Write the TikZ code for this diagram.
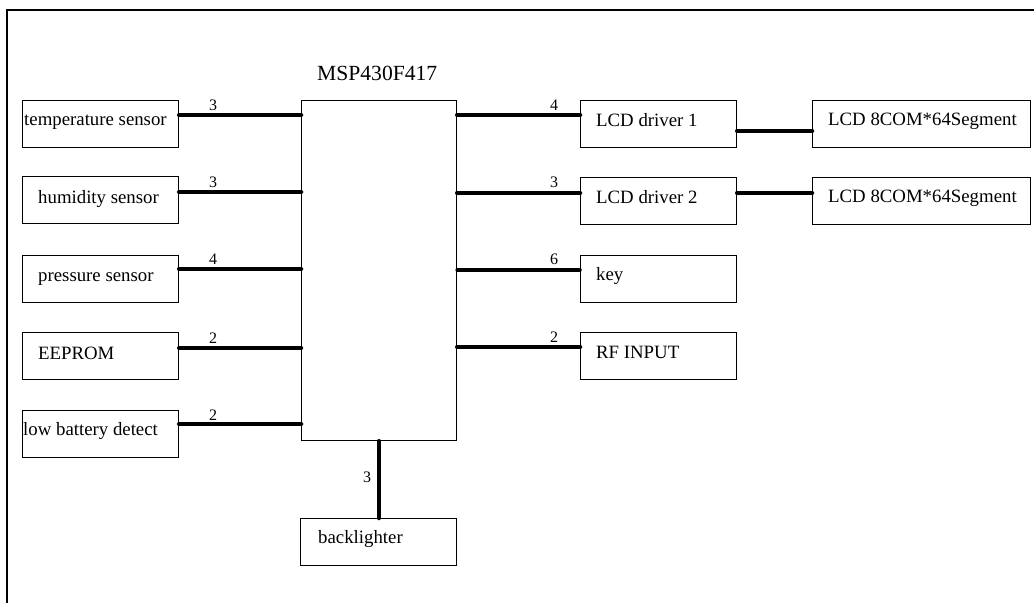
\documentclass[tikz,border=0pt]{standalone}
\usepackage{fontspec}
\setmainfont{Liberation Serif}
\begin{document}
\begin{tikzpicture}[x=1pt,y=-1pt,
  box/.style={draw=black, line width=1.2pt, minimum width=156pt, minimum height=47pt, inner sep=0pt, anchor=north west},
  txt/.style={anchor=base west, inner sep=0pt, font=\fontsize{18.8}{20}\selectfont},
  num/.style={anchor=base, inner sep=0pt, font=\fontsize{16}{18}\selectfont},
  bus/.style={line width=4.5pt, line cap=round},
  thinbus/.style={line width=3.5pt, line cap=round}]
\useasboundingbox (0,0) rectangle (1034,603);
% frame
\draw[line width=2pt] (7,603) -- (7,10) -- (1034,10);
% MCU
\node[draw=black, line width=1.2pt, minimum width=155pt, minimum height=340pt, inner sep=0pt, anchor=north west] (mcu) at (301,100) {};
\node[anchor=base west, inner sep=0pt, font=\fontsize{21.6}{23}\selectfont] (mcut) at (317,80) {MSP430F417};
% left boxes
\node[box] (temp) at (22,100) {};
\node[box] (hum) at (22,176) {};
\node[box] (pres) at (22,255) {};
\node[box] (eep) at (22,332) {};
\node[box] (bat) at (22,410) {};
\node[txt] (tempt) at (24,125) {temperature sensor};
\node[txt] (humt) at (38,203) {humidity sensor};
\node[txt] (prest) at (38,281) {pressure sensor};
\node[txt] (eept) at (38,359) {EEPROM};
\node[txt] (batt) at (23,435) {low battery detect};
% right boxes
\node[box] (drv1) at (580,100) {};
\node[box] (drv2) at (580,177) {};
\node[box] (key) at (580,255) {};
\node[box] (rf) at (580,332) {};
\node[txt] (drv1t) at (596,126) {LCD driver 1};
\node[txt] (drv2t) at (596,203) {LCD driver 2};
\node[txt] (keyt) at (596,280) {key};
\node[txt] (rft) at (596,358) {RF INPUT};
% LCD boxes
\node[box, minimum width=218pt] (lcd1) at (812,100) {};
\node[box, minimum width=218pt] (lcd2) at (812,177) {};
\node[txt] (lcd1t) at (828,125) {LCD 8COM*64Segment};
\node[txt] (lcd2t) at (828,202) {LCD 8COM*64Segment};
% backlighter
\node[box] (bl) at (300,518) {};
\node[txt] (blt) at (318,543) {backlighter};
% connectors left
\draw[bus] (temp.east |- 0,115) -- (mcu.west |- 0,115);
\draw[bus] (hum.east |- 0,192) -- (mcu.west |- 0,192);
\draw[bus] (pres.east |- 0,269) -- (mcu.west |- 0,269);
\draw[bus] (eep.east |- 0,348) -- (mcu.west |- 0,348);
\draw[bus] (bat.east |- 0,424) -- (mcu.west |- 0,424);
\node[num] (n1) at (213,110) {3};
\node[num] (n2) at (213,187) {3};
\node[num] (n3) at (213,264) {4};
\node[num] (n4) at (213,343) {2};
\node[num] (n5) at (213,420) {2};
% connectors right
\draw[bus] (mcu.east |- 0,115) -- (drv1.west |- 0,115);
\draw[bus] (mcu.east |- 0,193) -- (drv2.west |- 0,193);
\draw[thinbus] (mcu.east |- 0,270) -- (key.west |- 0,270);
\draw[bus] (mcu.east |- 0,347) -- (rf.west |- 0,347);
\node[num] (n6) at (554,110) {4};
\node[num] (n7) at (554,187) {3};
\node[num] (n8) at (554,264) {6};
\node[num] (n9) at (554,342) {2};
% driver to LCD
\draw[bus] (drv1.east |- 0,131) -- (lcd1.west |- 0,131);
\draw[bus] (drv2.east |- 0,193) -- (lcd2.west |- 0,193);
% backlighter
\draw[bus] (mcu.south -| 379,0) -- (bl.north -| 379,0);
\node[num] (n10) at (367,482) {3};
\end{tikzpicture}
\end{document}
